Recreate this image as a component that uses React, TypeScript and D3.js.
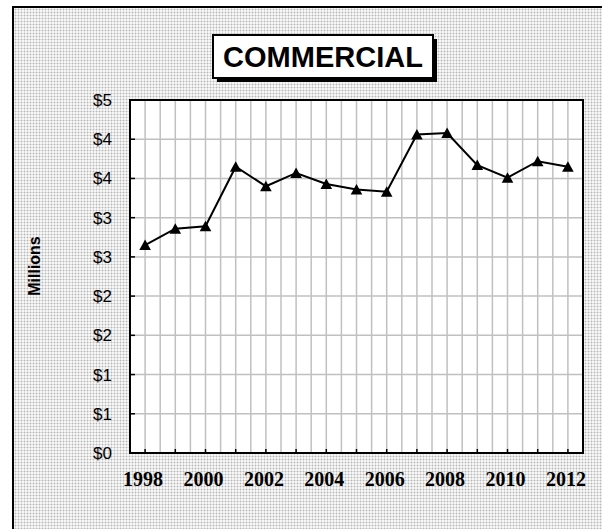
import * as d3 from "d3";
import { useEffect } from "react";

const years = [1998, 1999, 2000, 2001, 2002, 2003, 2004, 2005, 2006, 2007, 2008, 2009, 2010, 2011, 2012];
const values = [2.65, 2.86, 2.89, 3.65, 3.4, 3.57, 3.43, 3.36, 3.33, 4.06, 4.08, 3.67, 3.51, 3.72, 3.65];
const yTicks = [0, 0.5, 1, 1.5, 2, 2.5, 3, 3.5, 4, 4.5];
const xLabels = [1998, 2000, 2002, 2004, 2006, 2008, 2010, 2012];
const title = "COMMERCIAL";
const yTitle = "Millions";

export default function App() {
  const W = 602;
  const H = 529;
  const left = 130;
  const right = 583;
  const top = 100;
  const bottom = 453;

  useEffect(() => {
    document.body.style.margin = "0";
    document.body.style.overflow = "hidden";
  }, []);

  const x = d3.scaleLinear().domain([1997.5, 2012.5]).range([left, right]);
  const y = d3.scaleLinear().domain([0, 4.5]).range([bottom, top]);

  const vGrid = d3.range(1998, 2012.5, 0.5);
  const line = d3
    .line<number>()
    .x((_, i) => x(years[i]))
    .y((d) => y(d));

  const tri = "M0,-5.5L5.8,5L-5.8,5Z";

  return (
    <svg
      width={W}
      height={H}
      style={{ display: "block" }}
      fontFamily="Arial, 'Liberation Sans', sans-serif"
    >
      <defs>
        <pattern id="dots" width="3" height="3" patternUnits="userSpaceOnUse">
          <rect width="3" height="3" fill="#f6f6f6" />
          <rect x="0" y="0" width="1" height="3" fill="#dedede" />
          <rect x="0" y="0" width="3" height="1" fill="#dedede" />
          <rect x="0" y="0" width="1" height="1" fill="#b8b8b8" />
        </pattern>
      </defs>
      <rect width={W} height={H} fill="#fff" />
      {/* chart area background, open on the right and bottom */}
      <rect x={13} y={7} width={W - 13} height={H - 7} fill="url(#dots)" />
      <path d={`M${W},7H13V${H}`} fill="none" stroke="#000" strokeWidth={2} />

      {/* plot area */}
      <rect x={left} y={top} width={right - left} height={bottom - top} fill="#fff" />
      {vGrid.map((v) => (
        <line key={"v" + v} x1={x(v)} x2={x(v)} y1={top} y2={bottom} stroke="#c0c0c0" strokeWidth={1.5} />
      ))}
      {yTicks.slice(1, -1).map((t) => (
        <line key={"h" + t} x1={left} x2={right} y1={y(t)} y2={y(t)} stroke="#c0c0c0" strokeWidth={1.5} />
      ))}
      <rect x={left} y={top} width={right - left} height={bottom - top} fill="none" stroke="#000" strokeWidth={2} />

      {/* ticks */}
      {yTicks.map((t) => (
        <line key={"yt" + t} x1={left} x2={left + 5} y1={y(t)} y2={y(t)} stroke="#000" strokeWidth={1.5} />
      ))}
      {years.map((yr) => (
        <line key={"xt" + yr} x1={x(yr)} x2={x(yr)} y1={bottom} y2={bottom - 4} stroke="#000" strokeWidth={1.5} />
      ))}

      {/* y labels */}
      {yTicks.map((t) => (
        <text key={"yl" + t} x={112} y={y(t) + 6} textAnchor="end" fontSize={17} fill="#000">
          {"$" + Math.round(t)}
        </text>
      ))}
      {/* x labels */}
      {xLabels.map((yr) => (
        <text
          key={"xl" + yr}
          x={x(yr) - 2}
          y={486}
          textAnchor="middle"
          fontSize={20}
          fontWeight="bold"
          fontFamily="'Times New Roman', 'Liberation Serif', serif"
          fill="#000"
        >
          {yr}
        </text>
      ))}

      <text
        transform="translate(40,266) rotate(-90)"
        textAnchor="middle"
        fontSize={16}
        fontWeight="bold"
        fill="#000"
      >
        {yTitle}
      </text>

      {/* series */}
      <path d={line(values) ?? ""} fill="none" stroke="#000" strokeWidth={2} />
      {values.map((v, i) => (
        <path key={"m" + i} d={tri} transform={`translate(${x(years[i])},${y(v)})`} fill="#000" />
      ))}

      {/* title */}
      <rect x={217} y={39} width={220} height={43} fill="#000" />
      <rect x={213} y={35} width={220} height={43} fill="#fff" stroke="#000" strokeWidth={2} />
      <text x={323} y={67} textAnchor="middle" fontSize={29} fontWeight="bold" fill="#000">
        {title}
      </text>
    </svg>
  );
}
